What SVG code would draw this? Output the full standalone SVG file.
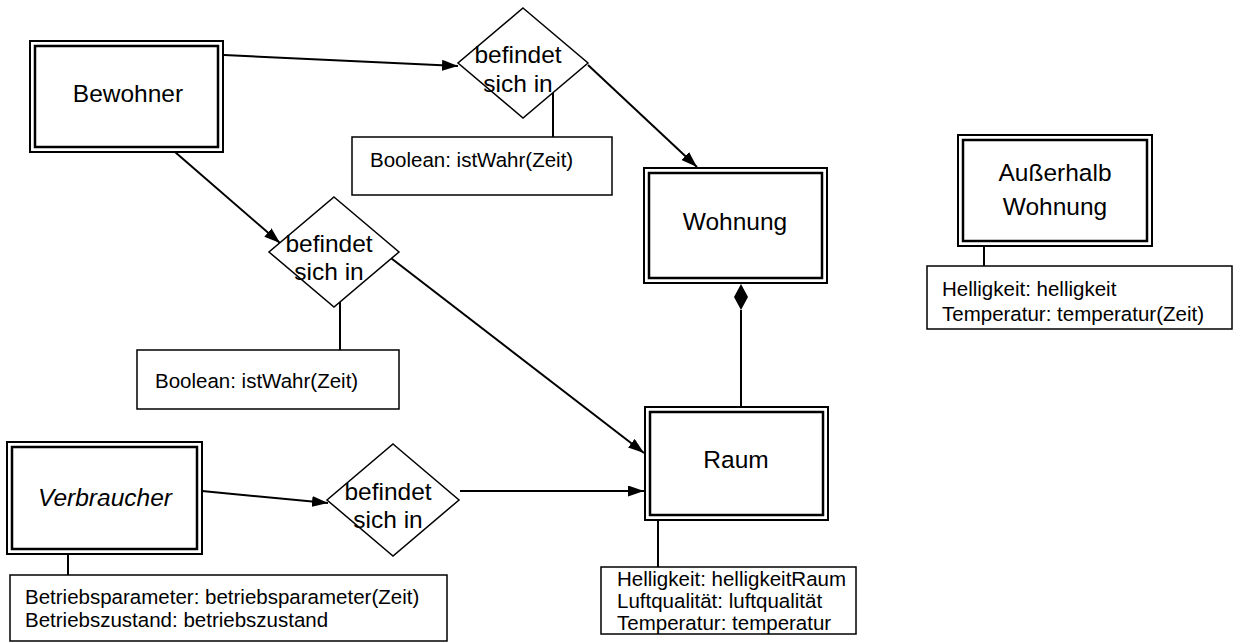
<svg xmlns="http://www.w3.org/2000/svg" width="1258" height="643" viewBox="0 0 1258 643">
<style>
.o{fill:#fff;stroke:#000;stroke-width:2}
.i{fill:none;stroke:#000;stroke-width:2.5}
.a{fill:#fff;stroke:#000;stroke-width:1.5}
.d{fill:#fff;stroke:#000;stroke-width:1.5}
.l{fill:none;stroke:#000;stroke-width:2}
.t{font-family:"Liberation Sans",Arial,sans-serif;font-size:24.5px;fill:#000;text-anchor:middle}
.s{font-family:"Liberation Sans",Arial,sans-serif;font-size:20.5px;fill:#000}
</style>
<defs>
<marker id="arr" viewBox="0 0 16 11" refX="16" refY="5.5" markerWidth="16" markerHeight="11" markerUnits="userSpaceOnUse" orient="auto">
<path d="M0,0 L16,5.5 L0,11 Z" fill="#000"/>
</marker>
</defs>
<rect width="1258" height="643" fill="#fff"/>
<g id="connectors">
<line class="l" x1="224" y1="55" x2="458" y2="66" marker-end="url(#arr)"/>
<line class="l" x1="588" y1="65" x2="697" y2="167" marker-end="url(#arr)"/>
<line class="l" x1="175" y1="152" x2="280" y2="243" marker-end="url(#arr)"/>
<line class="l" x1="387" y1="255" x2="644" y2="453" marker-end="url(#arr)"/>
<line class="l" x1="202" y1="491" x2="328" y2="503" marker-end="url(#arr)"/>
<line class="l" x1="460" y1="491" x2="644" y2="491" marker-end="url(#arr)"/>
<line class="l" x1="741" y1="310" x2="741" y2="407"/>
<path d="M741,284 L748,297 L741,310 L734,297 Z" fill="#000"/>
<line class="l" x1="553" y1="88" x2="553" y2="137"/>
<line class="l" x1="340" y1="302" x2="340" y2="350"/>
<line class="l" x1="68" y1="554" x2="68" y2="575"/>
<line class="l" x1="658" y1="520" x2="658" y2="567"/>
<line class="l" x1="984" y1="246" x2="984" y2="266"/>
</g>
<g id="Bewohner">
<rect class="o" x="30" y="41" width="193" height="111"/>
<rect class="i" x="35" y="46" width="183" height="101"/>
<text class="t" x="128" y="102">Bewohner</text>
</g>
<g id="Wohnung">
<rect class="o" x="644" y="168" width="183" height="115"/>
<rect class="i" x="649" y="173" width="173" height="105"/>
<text class="t" x="735" y="230">Wohnung</text>
</g>
<g id="Raum">
<rect class="o" x="645" y="407" width="183" height="113"/>
<rect class="i" x="650" y="412" width="173" height="103"/>
<text class="t" x="736" y="468">Raum</text>
</g>
<g id="Verbraucher">
<rect class="o" x="7" y="442" width="195" height="112"/>
<rect class="i" x="12" y="447" width="185" height="102"/>
<text class="t" x="105" y="506" font-style="italic">Verbraucher</text>
</g>
<g id="AusserhalbWohnung">
<rect class="o" x="958" y="135" width="194" height="111"/>
<rect class="i" x="963" y="140" width="184" height="101"/>
<text class="t" x="1055" y="181">Außerhalb</text>
<text class="t" x="1055" y="215">Wohnung</text>
</g>
<g id="befindet1">
<path class="d" d="M523,8 L588,63 L523,118 L458,63 Z"/>
<text class="t" x="518" y="63">befindet</text>
<text class="t" x="518" y="92">sich in</text>
</g>
<g id="befindet2">
<path class="d" d="M334,197 L399,252 L334,307 L269,252 Z"/>
<text class="t" x="329" y="252">befindet</text>
<text class="t" x="329" y="280">sich in</text>
</g>
<g id="befindet3">
<path class="d" d="M393,444 L459,500 L393,556 L327,500 Z"/>
<text class="t" x="388" y="500">befindet</text>
<text class="t" x="388" y="528">sich in</text>
</g>
<g id="attr1">
<rect class="a" x="352" y="137" width="260" height="58"/>
<text class="s" x="370" y="167">Boolean: istWahr(Zeit)</text>
</g>
<g id="attr2">
<rect class="a" x="137" y="350" width="262" height="59"/>
<text class="s" x="155" y="388">Boolean: istWahr(Zeit)</text>
</g>
<g id="attrVerbraucher">
<rect class="a" x="10" y="575" width="437" height="66"/>
<text class="s" x="25" y="604">Betriebsparameter: betriebsparameter(Zeit)</text>
<text class="s" x="25" y="627">Betriebszustand: betriebszustand</text>
</g>
<g id="attrRaum">
<rect class="a" x="601" y="567" width="255" height="67"/>
<text class="s" x="617" y="586">Helligkeit: helligkeitRaum</text>
<text class="s" x="617" y="608">Luftqualität: luftqualität</text>
<text class="s" x="617" y="630">Temperatur: temperatur</text>
</g>
<g id="attrAusserhalb">
<rect class="a" x="927" y="266" width="305" height="63"/>
<text class="s" x="942" y="296">Helligkeit: helligkeit</text>
<text class="s" x="942" y="321">Temperatur: temperatur(Zeit)</text>
</g>
</svg>
